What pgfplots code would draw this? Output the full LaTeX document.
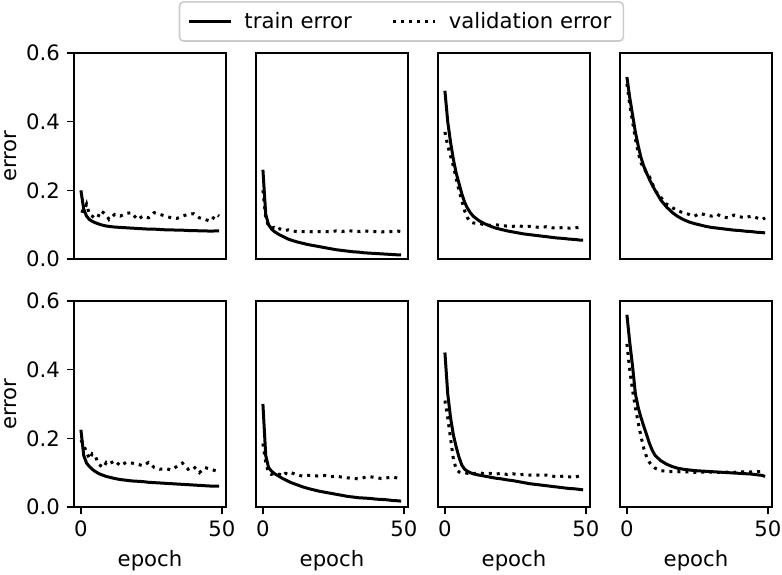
\documentclass[border=0pt]{standalone}
\usepackage{fontspec}
\setmainfont{DejaVu Sans}
\usepackage{pgfplots}
\pgfplotsset{compat=1.18}
\usepackage{pgfplotstable}

% e = epoch, tr = train error, va = validation error
\pgfplotstableread{
e tr va
0 0.200 0.140
1 0.145 0.138
2 0.125 0.160
3 0.115 0.130
4 0.110 0.125
5 0.106 0.118
6 0.103 0.122
7 0.100 0.140
8 0.098 0.135
9 0.096 0.128
10 0.095 0.115
12 0.093 0.130
14 0.092 0.125
16 0.091 0.133
18 0.090 0.135
20 0.089 0.115
22 0.088 0.125
24 0.087 0.120
26 0.087 0.135
28 0.086 0.130
30 0.085 0.125
32 0.085 0.120
34 0.084 0.118
36 0.084 0.125
38 0.083 0.130
40 0.083 0.132
42 0.082 0.120
44 0.082 0.115
46 0.081 0.110
48 0.082 0.130
49 0.082 0.125
}\pa
\pgfplotstableread{
e tr va
0 0.260 0.200
1 0.130 0.120
2 0.100 0.095
3 0.088 0.090
4 0.080 0.092
5 0.075 0.085
6 0.070 0.088
7 0.066 0.085
8 0.062 0.083
9 0.058 0.085
10 0.055 0.082
12 0.050 0.080
14 0.046 0.080
16 0.042 0.080
18 0.039 0.079
20 0.036 0.080
22 0.033 0.080
24 0.030 0.079
26 0.027 0.082
28 0.025 0.080
30 0.023 0.083
32 0.021 0.081
34 0.020 0.080
36 0.018 0.082
38 0.017 0.080
40 0.016 0.080
42 0.015 0.079
44 0.014 0.080
46 0.013 0.080
48 0.012 0.081
49 0.012 0.080
}\pb
\pgfplotstableread{
e tr va
0 0.490 0.370
1 0.400 0.330
2 0.340 0.300
3 0.290 0.270
4 0.250 0.235
5 0.220 0.200
6 0.190 0.170
7 0.165 0.140
8 0.148 0.120
9 0.135 0.108
10 0.125 0.105
12 0.112 0.104
14 0.103 0.100
16 0.096 0.098
18 0.090 0.100
20 0.086 0.097
22 0.082 0.096
24 0.079 0.095
26 0.076 0.097
28 0.073 0.094
30 0.071 0.095
32 0.069 0.093
34 0.067 0.092
36 0.065 0.094
38 0.063 0.091
40 0.061 0.090
42 0.060 0.092
44 0.058 0.090
46 0.057 0.091
48 0.055 0.092
49 0.055 0.090
}\pc
\pgfplotstableread{
e tr va
0 0.530 0.510
1 0.470 0.450
2 0.420 0.400
3 0.370 0.350
4 0.330 0.310
5 0.295 0.280
6 0.270 0.265
7 0.250 0.250
8 0.232 0.240
9 0.215 0.220
10 0.200 0.200
12 0.172 0.180
14 0.152 0.160
16 0.136 0.150
18 0.124 0.140
20 0.115 0.135
22 0.108 0.130
24 0.103 0.125
26 0.099 0.133
28 0.095 0.128
30 0.092 0.125
32 0.090 0.130
34 0.088 0.122
36 0.086 0.120
38 0.084 0.128
40 0.083 0.123
42 0.081 0.120
44 0.080 0.125
46 0.078 0.120
48 0.077 0.115
49 0.076 0.120
}\pd
\pgfplotstableread{
e tr va
0 0.225 0.195
1 0.150 0.180
2 0.128 0.160
3 0.118 0.140
4 0.110 0.155
5 0.104 0.150
6 0.099 0.130
7 0.095 0.120
8 0.092 0.115
9 0.089 0.130
10 0.087 0.125
12 0.083 0.135
14 0.080 0.120
16 0.078 0.130
18 0.076 0.128
20 0.075 0.125
22 0.074 0.120
24 0.072 0.130
26 0.071 0.115
28 0.070 0.110
30 0.069 0.112
32 0.068 0.108
34 0.067 0.118
36 0.066 0.128
38 0.065 0.110
40 0.064 0.118
42 0.063 0.100
44 0.062 0.115
46 0.061 0.110
48 0.061 0.105
49 0.061 0.100
}\pe
\pgfplotstableread{
e tr va
0 0.300 0.185
1 0.150 0.130
2 0.115 0.100
3 0.105 0.095
4 0.098 0.098
5 0.093 0.097
6 0.088 0.095
7 0.083 0.090
8 0.079 0.098
9 0.075 0.095
10 0.071 0.100
12 0.065 0.094
14 0.059 0.090
16 0.054 0.092
18 0.050 0.091
20 0.046 0.090
22 0.043 0.092
24 0.040 0.088
26 0.037 0.090
28 0.034 0.087
30 0.031 0.085
32 0.029 0.083
34 0.027 0.082
36 0.026 0.086
38 0.025 0.088
40 0.023 0.086
42 0.022 0.083
44 0.021 0.085
46 0.019 0.087
48 0.018 0.084
49 0.017 0.084
}\pf
\pgfplotstableread{
e tr va
0 0.450 0.310
1 0.330 0.260
2 0.260 0.200
3 0.210 0.140
4 0.175 0.110
5 0.145 0.102
6 0.122 0.100
7 0.110 0.100
8 0.104 0.098
9 0.100 0.100
10 0.097 0.097
12 0.093 0.100
14 0.090 0.097
16 0.087 0.098
18 0.084 0.096
20 0.082 0.098
22 0.079 0.095
24 0.077 0.097
26 0.074 0.094
28 0.071 0.095
30 0.068 0.093
32 0.066 0.094
34 0.064 0.092
36 0.062 0.093
38 0.060 0.090
40 0.058 0.088
42 0.056 0.090
44 0.054 0.088
46 0.053 0.086
48 0.051 0.092
49 0.050 0.095
}\pg
\pgfplotstableread{
e tr va
0 0.560 0.475
1 0.480 0.400
2 0.410 0.340
3 0.330 0.290
4 0.290 0.245
5 0.260 0.205
6 0.235 0.170
7 0.210 0.145
8 0.185 0.130
9 0.165 0.120
10 0.150 0.113
12 0.135 0.106
14 0.125 0.104
16 0.118 0.103
18 0.113 0.103
20 0.110 0.102
22 0.108 0.102
24 0.106 0.101
26 0.105 0.102
28 0.104 0.101
30 0.103 0.102
32 0.102 0.101
34 0.101 0.100
36 0.100 0.102
38 0.099 0.101
40 0.098 0.102
42 0.097 0.103
44 0.096 0.102
46 0.094 0.103
48 0.092 0.103
49 0.089 0.102
}\ph

\pgfplotsset{
  panel/.style={
    scale only axis, width=76pt, height=103pt,
    anchor=south west,
    xmin=-2.45, xmax=51.45, ymin=0, ymax=0.6,
    axis line style={line width=0.8pt},
    tick style={black, line width=0.8pt},
    tick align=outside, tick pos=left,
    major tick length=3.5pt,
    xtick={0,50}, ytick={0,0.2,0.4,0.6},
    font=\fontsize{10.6}{12.5}\selectfont,
    tick label style={/pgf/number format/assume math mode=true},
    y tick label style={/pgf/number format/.cd, fixed, fixed zerofill, precision=1},
    ylabel style={at={(axis description cs:-0.415,0.5)}, anchor=center},
    clip=true,
  },
  noxt/.style={xtick=\empty},
  noyt/.style={ytick=\empty},
  train/.style={black, line width=1.5pt, no marks, line join=round},
  val/.style={black, line width=1.5pt, no marks, dash pattern=on 1.5pt off 2.5pt},
}

\begin{document}
\begin{tikzpicture}
\useasboundingbox (0,0) rectangle (391pt,-287pt);

\begin{axis}[panel, noxt, at={(37pt,-129.5pt)}, ylabel={error},
  legend columns=2,
  legend style={at={(2.154,1.153)}, anchor=center, draw=black!20, line width=0.8pt,
    rounded corners=2pt, font=\fontsize{10.6}{12.5}\selectfont, inner xsep=4pt, inner ysep=3pt,
    /tikz/every odd column/.append style={column sep=4pt},
    /tikz/every even column/.append style={column sep=18pt}},
  legend image code/.code={\draw[#1] (0pt,0pt) -- (21pt,0pt);}]
\addplot[train] table[x=e, y=tr] {\pa};
\addlegendentry{train error}
\addplot[val] table[x=e, y=va] {\pa};
\addlegendentry{validation error}
\end{axis}

\begin{axis}[panel, noxt, noyt, at={(128pt,-129.5pt)}]
\addplot[train] table[x=e, y=tr] {\pb};
\addplot[val] table[x=e, y=va] {\pb};
\end{axis}

\begin{axis}[panel, noxt, noyt, at={(219pt,-129.5pt)}]
\addplot[train] table[x=e, y=tr] {\pc};
\addplot[val] table[x=e, y=va] {\pc};
\end{axis}

\begin{axis}[panel, noxt, noyt, at={(310pt,-129.5pt)}]
\addplot[train] table[x=e, y=tr] {\pd};
\addplot[val] table[x=e, y=va] {\pd};
\end{axis}

\begin{axis}[panel, at={(37pt,-253.5pt)}, ylabel={error}, xlabel={epoch}]
\addplot[train] table[x=e, y=tr] {\pe};
\addplot[val] table[x=e, y=va] {\pe};
\end{axis}

\begin{axis}[panel, noyt, at={(128pt,-253.5pt)}, xlabel={epoch}]
\addplot[train] table[x=e, y=tr] {\pf};
\addplot[val] table[x=e, y=va] {\pf};
\end{axis}

\begin{axis}[panel, noyt, at={(219pt,-253.5pt)}, xlabel={epoch}]
\addplot[train] table[x=e, y=tr] {\pg};
\addplot[val] table[x=e, y=va] {\pg};
\end{axis}

\begin{axis}[panel, noyt, at={(310pt,-253.5pt)}, xlabel={epoch}]
\addplot[train] table[x=e, y=tr] {\ph};
\addplot[val] table[x=e, y=va] {\ph};
\end{axis}
\end{tikzpicture}
\end{document}
